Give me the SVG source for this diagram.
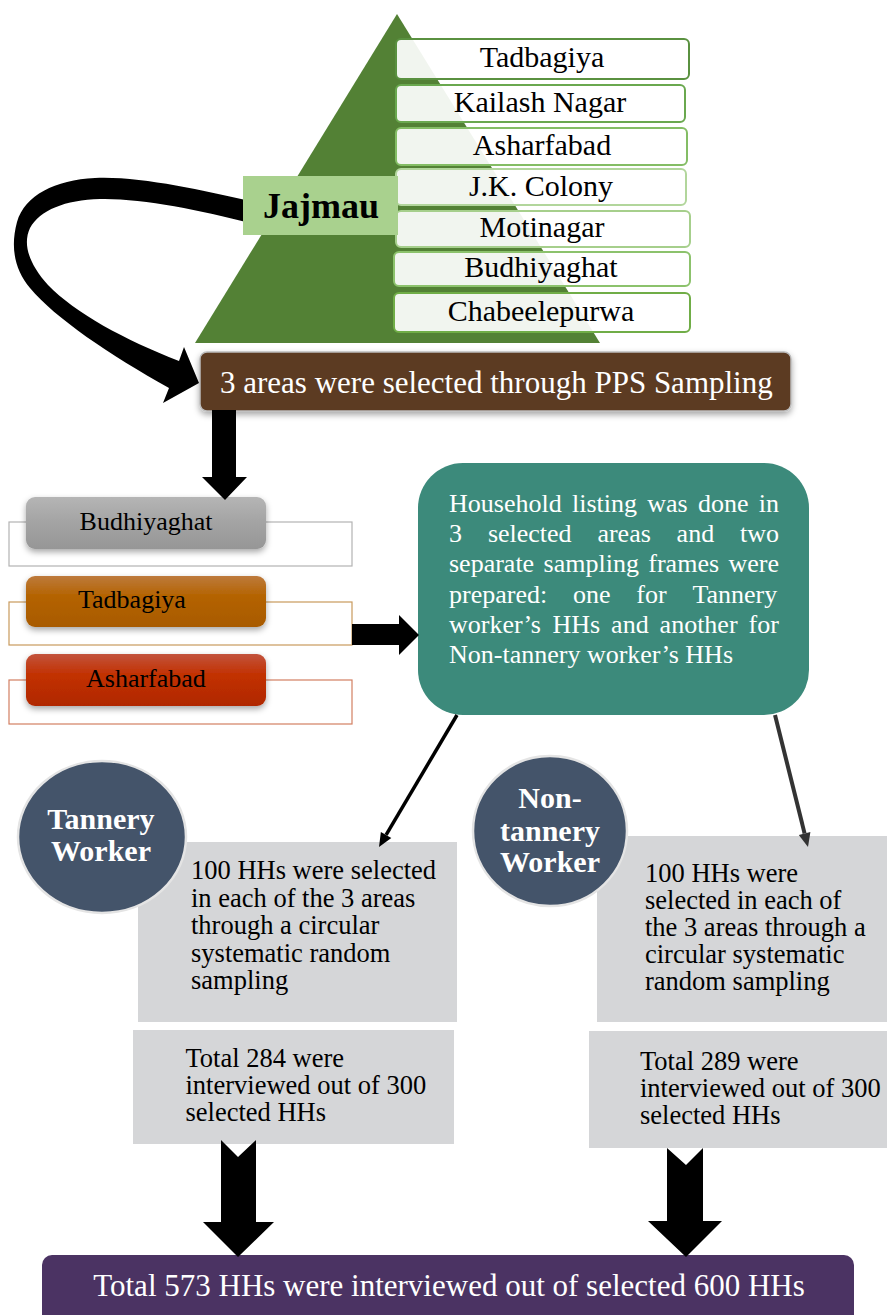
<svg xmlns="http://www.w3.org/2000/svg" width="887" height="1315" viewBox="0 0 887 1315">
<defs>
<style>
.t{font-family:'Liberation Serif','Times New Roman',serif;fill:#000}
.w{font-family:'Liberation Serif','Times New Roman',serif;fill:#fff}
.b{font-weight:bold}
.pb{fill:#fff;fill-opacity:0.92;stroke-width:2}
.gb{fill:#d5d6d8}
.blk{fill:#000}
</style>
<linearGradient id="gGray" x1="0" y1="0" x2="0" y2="1">
<stop offset="0" stop-color="#b5b5b5"/><stop offset="0.5" stop-color="#a3a3a3"/><stop offset="1" stop-color="#969696"/>
</linearGradient>
<linearGradient id="gOr" x1="0" y1="0" x2="0" y2="1">
<stop offset="0" stop-color="#bd7a3c"/><stop offset="0.4" stop-color="#b46300"/><stop offset="1" stop-color="#a85a00"/>
</linearGradient>
<linearGradient id="gRed" x1="0" y1="0" x2="0" y2="1">
<stop offset="0" stop-color="#c2533d"/><stop offset="0.4" stop-color="#c23100"/><stop offset="1" stop-color="#b02800"/>
</linearGradient>
<filter id="sh" x="-10%" y="-20%" width="120%" height="160%">
<feDropShadow dx="0" dy="3" stdDeviation="3" flood-color="#000" flood-opacity="0.35"/>
</filter>
</defs>
<rect width="887" height="1315" fill="#fff"/>

<g id="pyramid">
<polygon points="397,14 600,343 195,343" fill="#538135"/>
</g>

<g id="connectors">
<path d="M250,201 C200,190 140,176 95,178 C55,180 25,195 17,222 C10,248 15,270 30,288 C55,318 110,355 169,388 L163,403 L199,383 L184,347 L179,361 C125,340 75,313 48,285 C30,265 22,245 30,228 C40,210 65,200 100,199 C140,198 200,210 250,223 Z" class="blk"/>
</g>

<g id="area-tadbagiya"><rect x="396" y="39" width="293" height="40" rx="5" class="pb" stroke="#5a9140"/><text x="542" y="67" class="t" font-size="30" text-anchor="middle">Tadbagiya</text></g>
<g id="area-kailash"><rect x="396" y="85" width="289" height="37" rx="5" class="pb" stroke="#6aa84f"/><text x="540" y="112" class="t" font-size="30" text-anchor="middle">Kailash Nagar</text></g>
<g id="area-asharfabad"><rect x="396" y="128" width="291" height="37" rx="5" class="pb" stroke="#84bd65"/><text x="542" y="155" class="t" font-size="30" text-anchor="middle">Asharfabad</text></g>
<g id="area-jk"><rect x="396" y="169" width="290" height="36" rx="5" class="pb" stroke="#b2d69c"/><text x="541" y="196" class="t" font-size="30" text-anchor="middle">J.K. Colony</text></g>
<g id="area-motinagar"><rect x="396" y="211" width="294" height="36" rx="5" class="pb" stroke="#a6cf8c"/><text x="542" y="237" class="t" font-size="30" text-anchor="middle">Motinagar</text></g>
<g id="area-budhiyaghat"><rect x="394" y="252" width="296" height="34" rx="5" class="pb" stroke="#8cc26c"/><text x="541" y="277" class="t" font-size="30" text-anchor="middle">Budhiyaghat</text></g>
<g id="area-chabeelepurwa"><rect x="394" y="293" width="296" height="39" rx="5" class="pb" stroke="#70ad47"/><text x="541" y="321" class="t" font-size="30" text-anchor="middle">Chabeelepurwa</text></g>

<g id="jajmau"><rect x="243" y="176" width="155" height="59" fill="#a9d18e"/><text x="321" y="218" class="t b" font-size="36" text-anchor="middle">Jajmau</text></g>

<g id="pps"><rect x="200" y="352" width="591" height="59" rx="7" fill="#5c3a23" stroke="#bdbdbd" stroke-width="1.5" filter="url(#sh)"/><text x="220" y="393" class="w" font-size="31">3 areas were selected through PPS Sampling</text></g>

<g id="sel-budhiyaghat"><rect x="9" y="522" width="343" height="44" fill="none" stroke="#b3b3b3" stroke-width="1.2"/><rect x="26" y="497" width="240" height="52" rx="9" fill="url(#gGray)" filter="url(#sh)"/><text x="146" y="530" class="t" font-size="26" text-anchor="middle">Budhiyaghat</text></g>
<g id="sel-tadbagiya"><rect x="9" y="602" width="343" height="43" fill="none" stroke="#c99a5c" stroke-width="1.2"/><rect x="26" y="576" width="240" height="51" rx="9" fill="url(#gOr)" filter="url(#sh)"/><text x="78" y="608" class="t" font-size="26">Tadbagiya</text></g>
<g id="sel-asharfabad"><rect x="9" y="680" width="343" height="44" fill="none" stroke="#d37f62" stroke-width="1.2"/><rect x="26" y="654" width="240" height="52" rx="9" fill="url(#gRed)" filter="url(#sh)"/><text x="86" y="687" class="t" font-size="26">Asharfabad</text></g>

<g id="listing"><rect x="418" y="463" width="391" height="252" rx="45" fill="#3c8a7b"/>
<text class="w" font-size="26">
<tspan x="449" y="512">Household</tspan><tspan x="572" y="512">listing</tspan><tspan x="647.3" y="512">was</tspan><tspan x="698" y="512">done</tspan><tspan x="758.8" y="512">in</tspan>
<tspan x="449" y="542">3</tspan><tspan x="487.9" y="542">selected</tspan><tspan x="597.4" y="542">areas</tspan><tspan x="676.6" y="542">and</tspan><tspan x="740" y="542">two</tspan>
<tspan x="449" y="572">separate</tspan><tspan x="543.6" y="572">sampling</tspan><tspan x="648.3" y="572">frames</tspan><tspan x="728.5" y="572">were</tspan>
<tspan x="449" y="602.5">prepared:</tspan><tspan x="573" y="602.5">one</tspan><tspan x="636.3" y="602.5">for</tspan><tspan x="692.4" y="602.5">Tannery</tspan>
<tspan x="449" y="632.5">worker’s</tspan><tspan x="552.4" y="632.5">HHs</tspan><tspan x="611.1" y="632.5">and</tspan><tspan x="659.6" y="632.5">another</tspan><tspan x="748.6" y="632.5">for</tspan>
<tspan x="449" y="663">Non-tannery worker’s HHs</tspan>
</text></g>

<g id="tannery-select"><rect x="138" y="842" width="319" height="180" class="gb"/>
<text class="t" font-size="26.5"><tspan x="191" y="879">100 HHs were selected</tspan><tspan x="191" y="906.5">in each of the 3 areas</tspan><tspan x="191" y="934">through a circular</tspan><tspan x="191" y="961.5">systematic random</tspan><tspan x="191" y="989">sampling</tspan></text></g>
<g id="tannery-total"><rect x="133" y="1030" width="321" height="114" class="gb"/>
<text class="t" font-size="26.5"><tspan x="185.5" y="1066.5">Total 284 were</tspan><tspan x="185.5" y="1094">interviewed out of 300</tspan><tspan x="185.5" y="1121">selected HHs</tspan></text></g>
<g id="tannery-worker"><ellipse cx="102" cy="837" rx="84" ry="76" fill="#44546a" stroke="#e4e4e4" stroke-width="2.5"/><text class="w b" font-size="30" text-anchor="middle"><tspan x="101" y="829">Tannery</tspan><tspan x="101" y="861">Worker</tspan></text></g>

<g id="non-select"><rect x="597" y="836" width="290" height="186" class="gb"/>
<text class="t" font-size="26.5"><tspan x="645" y="881.5">100 HHs were</tspan><tspan x="645" y="908.5">selected in each of</tspan><tspan x="645" y="936">the 3 areas through a</tspan><tspan x="645" y="963">circular systematic</tspan><tspan x="645" y="990">random sampling</tspan></text></g>
<g id="non-total"><rect x="589" y="1031" width="298" height="117" class="gb"/>
<text class="t" font-size="26.5"><tspan x="640" y="1070">Total 289 were</tspan><tspan x="640" y="1097">interviewed out of 300</tspan><tspan x="640" y="1123.5">selected HHs</tspan></text></g>
<g id="non-worker"><ellipse cx="550" cy="831" rx="77" ry="75" fill="#44546a" stroke="#e4e4e4" stroke-width="2.5"/><text class="w b" font-size="30" text-anchor="middle"><tspan x="550" y="808">Non-</tspan><tspan x="550" y="841">tannery</tspan><tspan x="550" y="872">Worker</tspan></text></g>

<g id="total"><rect x="42" y="1255" width="812" height="80" rx="10" fill="#4b3363"/><text x="449" y="1296" class="w" font-size="31" text-anchor="middle">Total 573 HHs were interviewed out of selected 600 HHs</text></g>

<g id="connectors2">
<polygon points="212,410 236,410 236,477 247,477 225,500 202,477 212,477" class="blk"/>
<polygon points="352,624 399,624 399,615 419,635 399,655 399,645 352,645" class="blk"/>
<line x1="457" y1="715" x2="386.1" y2="834.9" stroke="#000" stroke-width="3.5"/>
<polygon points="379,847 391.3,838 380.9,831.9" class="blk"/>
<line x1="775" y1="715" x2="804.6" y2="833.4" stroke="#333" stroke-width="4"/>
<polygon points="808,847 810.4,831.9 798.8,834.9" fill="#333"/>
<polygon points="221,1140 238,1157 256,1140 256,1222 274,1222 238,1257 203,1222 221,1222" class="blk"/>
<polygon points="667,1148 686,1165 703,1148 703,1221 722,1221 686,1257 648,1221 667,1221" class="blk"/>
</g>
</svg>
